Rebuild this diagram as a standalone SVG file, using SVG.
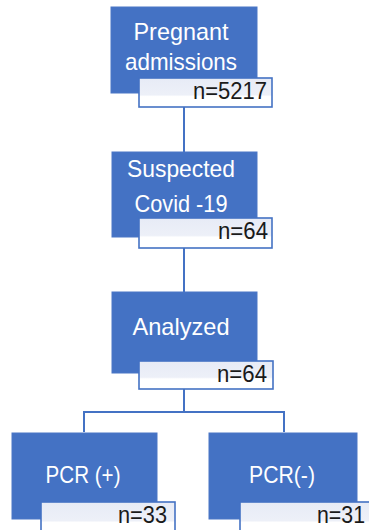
<svg xmlns="http://www.w3.org/2000/svg" width="369" height="530" viewBox="0 0 369 530">
<defs>
<linearGradient id="lg" x1="0" y1="0" x2="0" y2="1">
<stop offset="0" stop-color="#e7ebf6"/>
<stop offset="0.58" stop-color="#edf0f8"/>
<stop offset="0.64" stop-color="#ffffff"/>
<stop offset="1" stop-color="#ffffff"/>
</linearGradient>
<style>
.box{fill:#4472c4;stroke:#4a76c6;stroke-width:1}
.lab{fill:url(#lg);stroke:#4472c4;stroke-width:1.6}
.t{font-family:"Liberation Sans",Arial,sans-serif;font-size:24px;fill:#ffffff;text-anchor:middle}
.n{font-family:"Liberation Sans",Arial,sans-serif;font-size:23px;fill:#1a1a1a;text-anchor:end}
.c{fill:none;stroke:#4472c4;stroke-width:2}
</style>
</defs>
<rect width="369" height="530" fill="#ffffff"/>
<g id="connectors">
<line class="c" x1="184" y1="100" x2="184" y2="153"/>
<line class="c" x1="184" y1="240" x2="184" y2="293"/>
<line class="c" x1="184" y1="385" x2="184" y2="412"/>
<path class="c" d="M84 432 V412 H284 V432" stroke-width="2.4"/>
</g>
<g id="node-pregnant">
<rect class="box" x="111" y="7" width="146" height="86"/>
<text class="t" x="181" y="40" textLength="95" lengthAdjust="spacingAndGlyphs">Pregnant</text>
<text class="t" x="181" y="70" textLength="112" lengthAdjust="spacingAndGlyphs">admissions</text>
<rect class="lab" x="139" y="78" width="133" height="29"/>
<text class="n" x="267" y="99" textLength="74" lengthAdjust="spacingAndGlyphs">n=5217</text>
</g>
<g id="node-suspected">
<rect class="box" x="112" y="152" width="145" height="85"/>
<text class="t" x="181" y="177" textLength="108" lengthAdjust="spacingAndGlyphs">Suspected</text>
<text class="t" x="181" y="212" textLength="93" lengthAdjust="spacingAndGlyphs">Covid -19</text>
<rect class="lab" x="139" y="218" width="133" height="30"/>
<text class="n" x="268" y="239" textLength="50" lengthAdjust="spacingAndGlyphs">n=64</text>
</g>
<g id="node-analyzed">
<rect class="box" x="112" y="292" width="145" height="81"/>
<text class="t" x="181" y="335" textLength="97" lengthAdjust="spacingAndGlyphs">Analyzed</text>
<rect class="lab" x="139" y="361" width="134" height="28"/>
<text class="n" x="267" y="382" textLength="50" lengthAdjust="spacingAndGlyphs">n=64</text>
</g>
<g id="node-pcr-pos">
<rect class="box" x="12" y="433" width="145" height="86"/>
<text class="t" x="83" y="483" textLength="75" lengthAdjust="spacingAndGlyphs">PCR (+)</text>
<rect class="lab" x="41" y="502" width="134" height="32"/>
<text class="n" x="167" y="523" textLength="49" lengthAdjust="spacingAndGlyphs">n=33</text>
</g>
<g id="node-pcr-neg">
<rect class="box" x="209" y="433" width="148" height="86"/>
<text class="t" x="282" y="483" textLength="66" lengthAdjust="spacingAndGlyphs">PCR(-)</text>
<rect class="lab" x="240" y="502" width="134" height="32"/>
<text class="n" x="365" y="523" textLength="48" lengthAdjust="spacingAndGlyphs">n=31</text>
</g>
</svg>
